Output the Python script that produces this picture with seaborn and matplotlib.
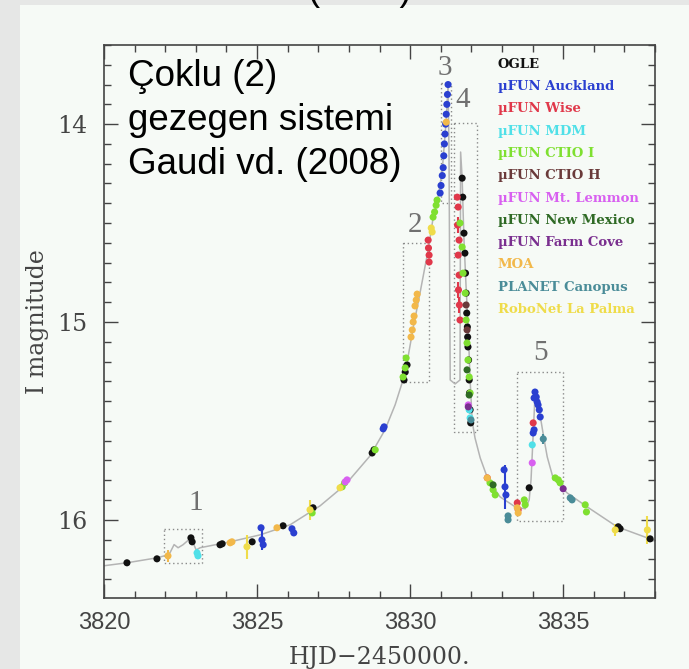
import pandas as pd
import seaborn as sns
import matplotlib.pyplot as plt
from matplotlib.patches import Rectangle
from matplotlib.ticker import MultipleLocator

# model light curve (thin gray line)
model_t = [3820.00, 3820.75, 3821.73, 3822.09, 3822.16, 3822.29, 3822.42, 3822.58, 3822.84, 3823.01,
           3823.14, 3824.12, 3825.10, 3826.08, 3827.06, 3827.88, 3828.69, 3829.18, 3829.51, 3829.84,
           3830.10, 3830.33, 3830.59, 3830.75, 3830.92, 3831.05, 3831.18, 3831.24, 3831.27, 3831.31,
           3831.47, 3831.63, 3831.65, 3831.70, 3831.73, 3831.76, 3831.83, 3831.90, 3831.96, 3832.03,
           3832.12, 3832.29, 3832.55, 3832.94, 3833.43, 3833.76, 3833.89, 3833.95, 3834.02, 3834.08,
           3834.15, 3834.25, 3834.38, 3834.48, 3834.67, 3835.13, 3835.78, 3836.76, 3838.01]
model_mag = [16.232, 16.217, 16.192, 16.177, 16.165, 16.125, 16.141, 16.126, 16.091, 16.152,
             16.141, 16.111, 16.076, 16.025, 15.929, 15.823, 15.677, 15.545, 15.419, 15.258,
             15.030, 14.848, 14.636, 14.475, 14.364, 14.232, 13.980, 13.803, 14.131, 15.293,
             15.313, 15.293, 14.141, 14.273, 14.434, 14.586, 14.828, 15.040, 15.293, 15.505,
             15.586, 15.687, 15.798, 15.884, 15.934, 15.944, 15.899, 15.798, 15.571, 15.369,
             15.394, 15.475, 15.596, 15.682, 15.788, 15.864, 15.934, 16.035, 16.106]

# photometry, one pair of lists per observatory
ogle_t = [3820.75, 3821.73, 3822.84, 3822.88, 3823.79, 3823.86, 3824.84, 3825.85, 3826.83, 3828.76,
          3828.82, 3829.80, 3829.84, 3829.90, 3831.70, 3831.72, 3831.76, 3831.79, 3831.81, 3831.83,
          3831.85, 3831.87, 3831.88, 3831.89, 3831.91, 3831.93, 3831.94, 3831.96, 3831.98, 3833.89,
          3836.80, 3836.86, 3837.84]
ogle_mag = [16.217, 16.197, 16.091, 16.111, 16.126, 16.121, 16.111, 16.030, 15.939, 15.662,
            15.646, 15.293, 15.253, 15.217, 14.273, 14.369, 14.551, 14.652, 14.753, 14.854,
            14.955, 15.025, 15.076, 15.126, 15.192, 15.293, 15.359, 15.444, 15.510, 15.838,
            16.035, 16.045, 16.096]
auck_t = [3825.13, 3825.16, 3825.20, 3826.14, 3826.20, 3829.12, 3829.15, 3830.98, 3831.01, 3831.05,
          3831.08, 3831.10, 3831.12, 3831.14, 3831.16, 3831.18, 3831.20, 3831.22, 3831.24, 3833.07,
          3833.10, 3833.13, 3834.08, 3834.12, 3834.05, 3834.15, 3834.18, 3834.22, 3834.25, 3834.05,
          3834.02]
auck_mag = [16.040, 16.101, 16.126, 16.045, 16.066, 15.540, 15.530, 14.348, 14.310, 14.260,
            14.220, 14.160, 14.100, 14.050, 14.000, 13.950, 13.900, 13.850, 13.800, 15.747,
            15.833, 15.874, 15.354, 15.379, 15.384, 15.404, 15.419, 15.444, 15.480, 15.545,
            15.561]
wise_t = [3830.59, 3830.60, 3830.62, 3830.62, 3831.54, 3831.57, 3831.55, 3831.60, 3831.57, 3831.60,
          3831.58, 3831.61, 3831.63, 3832.52, 3833.50, 3833.53, 3834.02]
wise_mag = [14.586, 14.626, 14.662, 14.697, 14.369, 14.419, 14.510, 14.586, 14.662, 14.763,
            14.838, 14.914, 14.990, 15.788, 15.914, 15.949, 15.510]
mdm_t = [3823.04, 3823.07, 3831.93, 3831.96, 3833.99]
mdm_mag = [16.167, 16.182, 15.444, 15.485, 15.621]
ctio1_t = [3826.80, 3827.78, 3827.86, 3828.86, 3829.77, 3829.84, 3829.87, 3830.75, 3830.80, 3830.85,
           3830.88, 3831.63, 3831.70, 3831.73, 3831.80, 3831.83, 3831.86, 3831.89, 3831.93, 3831.96,
           3832.61, 3832.71, 3832.78, 3833.73, 3833.76, 3834.74, 3834.84, 3834.90, 3835.72, 3835.76]
ctio1_mag = [15.965, 15.833, 15.813, 15.646, 15.278, 15.232, 15.182, 14.470, 14.444, 14.410,
             14.384, 14.500, 14.621, 14.753, 14.854, 14.990, 15.106, 15.192, 15.278, 15.359,
             15.813, 15.848, 15.874, 15.899, 15.924, 15.788, 15.798, 15.813, 15.924, 15.960]
ctioh_t = [3831.83, 3831.86]
ctioh_mag = [14.914, 15.040]
lemmon_t = [3827.94, 3827.88, 3831.90, 3833.99]
lemmon_mag = [15.798, 15.808, 15.419, 15.712]
newmex_t = [3831.86, 3831.93, 3832.71]
newmex_mag = [15.242, 15.369, 15.823]
farm_t = [3831.90, 3835.00]
farm_mag = [15.429, 15.843]
moa_t = [3822.09, 3824.12, 3824.18, 3825.65, 3830.03, 3830.07, 3830.10, 3830.13, 3830.16, 3830.20,
         3830.23, 3831.18, 3832.52, 3833.50, 3833.53]
moa_mag = [16.182, 16.116, 16.111, 16.040, 15.076, 15.040, 15.000, 14.970, 14.919, 14.889,
           14.859, 13.990, 15.788, 15.939, 15.965]
canopus_t = [3833.20, 3833.20, 3834.35, 3835.23, 3835.29, 3831.99]
canopus_mag = [15.980, 16.000, 15.591, 15.889, 15.899, 15.495]
robonet_t = [3824.67, 3826.73, 3827.71, 3830.69, 3830.72, 3836.70, 3837.75]
robonet_mag = [16.136, 15.949, 15.838, 14.525, 14.545, 16.051, 16.051]

obs_names = ['OGLE', 'µFUN Auckland', 'µFUN Wise', 'µFUN MDM', 'µFUN CTIO I', 'µFUN CTIO H',
             'µFUN Mt. Lemmon', 'µFUN New Mexico', 'µFUN Farm Cove', 'MOA', 'PLANET Canopus',
             'RoboNet La Palma']
obs_colors = ['#111111', '#2a3fd0', '#e0384a', '#50e0e8', '#7fe030', '#6a3a3a',
              '#d860f0', '#2f6a25', '#7a2f8f', '#f2b84a', '#4a8c98', '#efdc4a']

# visible error bars
err_obs = ['MOA', 'RoboNet La Palma', 'µFUN Auckland', 'RoboNet La Palma', 'µFUN Auckland',
           'µFUN Wise', 'µFUN Wise', 'µFUN Wise', 'PLANET Canopus', 'RoboNet La Palma',
           'RoboNet La Palma', 'µFUN MDM']
err_t = [3822.09, 3824.67, 3825.16, 3826.73, 3833.10, 3831.55, 3831.58, 3831.61, 3834.35, 3836.70,
         3837.75, 3823.04]
err_mag = [16.182, 16.136, 16.101, 15.949, 15.833, 14.510, 14.838, 14.914, 15.591, 16.051,
           16.051, 16.167]
err_size = [0.03, 0.06, 0.05, 0.05, 0.11, 0.04, 0.04, 0.04, 0.025, 0.03, 0.07, 0.02]

# dotted boxes around the features
box_names = ['1', '2', '3', '4', '5']
box_t0 = [3821.96, 3829.77, 3831.01, 3831.44, 3833.50]
box_t1 = [3823.20, 3830.62, 3831.34, 3832.19, 3835.00]
box_top = [16.045, 14.601, 13.790, 13.995, 15.253]
box_bot = [16.217, 15.303, 14.400, 15.556, 16.005]
label_t = [3823.01, 3830.16, 3831.14, 3831.72, 3834.25]
label_mag = [15.914, 14.510, 13.717, 13.879, 15.157]

series = [(ogle_t, ogle_mag), (auck_t, auck_mag), (wise_t, wise_mag), (mdm_t, mdm_mag),
          (ctio1_t, ctio1_mag), (ctioh_t, ctioh_mag), (lemmon_t, lemmon_mag), (newmex_t, newmex_mag),
          (farm_t, farm_mag), (moa_t, moa_mag), (canopus_t, canopus_mag), (robonet_t, robonet_mag)]
frames = []
for name, (t, m) in zip(obs_names, series):
    frames.append(pd.DataFrame({'t': t, 'mag': m, 'obs': name}))
df = pd.concat(frames, ignore_index=True)
palette = dict(zip(obs_names, obs_colors))

sns.set_style('ticks')
plt.rcParams['font.family'] = ['DejaVu Serif']

fig = plt.figure(figsize=(6.89, 6.69), dpi=100)
fig.patch.set_facecolor('#e6e7e6')
fig.patches.append(Rectangle((20 / 689, 0), 1, 1 - 5 / 669, transform=fig.transFigure,
                             facecolor='#f6faf6', edgecolor='none', zorder=-10))
ax = fig.add_axes([104 / 689, 1 - 598 / 669, 551 / 689, 553 / 669])
ax.set_facecolor('#f6faf6')

sns.lineplot(x=model_t, y=model_mag, sort=False, estimator=None, color='#b4b4b4', lw=1.1, ax=ax, zorder=2)

for o, t, m, e in zip(err_obs, err_t, err_mag, err_size):
    ax.errorbar(t, m, yerr=e, fmt='none', ecolor=palette[o], elinewidth=1.5, zorder=3)

sns.scatterplot(data=df, x='t', y='mag', hue='obs', palette=palette, s=26, edgecolor='none',
                legend=False, ax=ax, zorder=4)

for t0, t1, top, bot in zip(box_t0, box_t1, box_top, box_bot):
    ax.add_patch(Rectangle((t0, top), t1 - t0, bot - top, fill=False, ls=(0, (1, 2)),
                           ec='#8a8a8a', lw=1.0, zorder=1))
for s, t, m in zip(box_names, label_t, label_mag):
    ax.text(t, m, s, ha='center', va='center', fontsize=21, color='#707070',
            family='Liberation Serif')

for i, (name, c) in enumerate(zip(obs_names, obs_colors)):
    ax.text(0.715, 0.965 - i * 0.0403, name, transform=ax.transAxes, color=c, fontsize=9.5,
            fontweight='bold', va='center', ha='left')

ax.set_xlim(3820, 3838)
ax.set_ylim(16.395, 13.6)
ax.xaxis.set_major_locator(MultipleLocator(5))
ax.xaxis.set_minor_locator(MultipleLocator(1))
ax.yaxis.set_major_locator(MultipleLocator(1))
ax.yaxis.set_minor_locator(MultipleLocator(0.1))
ax.tick_params(which='both', direction='in', top=True, right=True, color='#444444', width=1.0)
ax.tick_params(which='major', length=10)
ax.tick_params(which='minor', length=5)
ax.tick_params(axis='y', labelsize=17, labelcolor='#444444', pad=12)
ax.tick_params(axis='x', labelsize=17, labelcolor='#444444', pad=10)
for lab in ax.get_xticklabels():
    lab.set_family('Liberation Sans')
for sp in ax.spines.values():
    sp.set_color('#444444')
    sp.set_linewidth(1.2)

ax.set_xlabel('HJD\u22122450000.', fontsize=17, color='#444444', labelpad=9)
ax.set_ylabel('I magnitude', fontsize=17, color='#444444', labelpad=6)

fig.text(128 / 689, 1 - 59 / 669, 'Çoklu (2)\ngezegen sistemi\nGaudi vd. (2008)', fontsize=26.5,
         family='Liberation Sans', va='top', ha='left', color='black', linespacing=1.33)
fig.text(360 / 689, 1.0, '(2008)', fontsize=26, family='Liberation Sans', va='baseline',
         ha='center', color='black')

fig.savefig('out.png', dpi=100, facecolor=fig.get_facecolor())
